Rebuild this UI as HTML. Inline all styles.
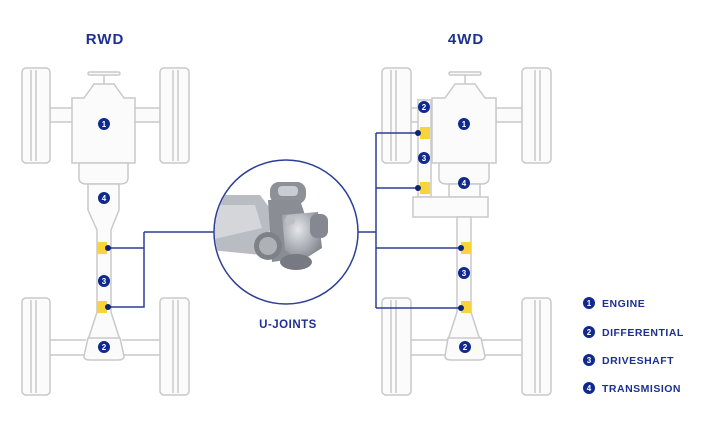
<!DOCTYPE html>
<html><head><meta charset="utf-8"><style>
html,body{margin:0;padding:0;background:#fff}
svg{display:block}
text{font-family:"Liberation Sans",sans-serif;font-weight:bold}
</style></head><body>
<svg width="720" height="428" viewBox="0 0 720 428" xmlns="http://www.w3.org/2000/svg">
<defs>
<radialGradient id="g1" cx="0.4" cy="0.35" r="0.7"><stop offset="0" stop-color="#e4e6ea"/><stop offset="1" stop-color="#7d8189"/></radialGradient>
</defs>
<g fill="#fbfbfb" stroke="#c9c9c9" stroke-width="1.5">
<!-- RWD -->
<rect x="50" y="108" width="110" height="14"/>
<rect x="22" y="68" width="28" height="95" rx="4"/><line x1="31" y1="70" x2="31" y2="161"/><line x1="36" y1="70" x2="36" y2="161"/>
<rect x="160" y="68" width="29" height="95" rx="4"/><line x1="173" y1="70" x2="173" y2="161"/><line x1="178" y1="70" x2="178" y2="161"/>
<rect x="88" y="72" width="32" height="3" rx="1.5"/><line x1="104" y1="75" x2="104" y2="84"/>
<path d="M94 84 H114 L124 98 H135 V163 H72 V98 H84 Z"/>
<path d="M79 163 H128 V178 Q128 184 120 184 H87 Q79 184 79 178 Z"/>
<path d="M88 184 H119 V210 L111 230 V312 L120 340 H88 L97 312 V230 L88 210 Z"/>
<path d="M88 338 H120 L124 356 Q124 360 118 360 H90 Q84 360 84 356 Z"/>
<path d="M50 340 H86 M122 340 H160 M50 355 H85 M123 355 H160" fill="none"/>
<rect x="22" y="298" width="28" height="97" rx="4"/><line x1="31" y1="300" x2="31" y2="393"/><line x1="36" y1="300" x2="36" y2="393"/>
<rect x="160" y="298" width="29" height="97" rx="4"/><line x1="173" y1="300" x2="173" y2="393"/><line x1="178" y1="300" x2="178" y2="393"/>
<!-- 4WD -->
<rect x="496" y="108" width="26" height="14"/>
<rect x="411" y="108" width="10" height="14"/>
<rect x="382" y="68" width="29" height="95" rx="4"/><line x1="391" y1="70" x2="391" y2="161"/><line x1="396" y1="70" x2="396" y2="161"/>
<rect x="522" y="68" width="29" height="95" rx="4"/><line x1="535" y1="70" x2="535" y2="161"/><line x1="540" y1="70" x2="540" y2="161"/>
<rect x="449" y="72" width="32" height="3" rx="1.5"/><line x1="465" y1="75" x2="465" y2="84"/>
<rect x="418" y="100" width="13" height="97"/>
<path d="M455 84 H475 L485 98 H496 V163 H432 V98 H445 Z"/>
<path d="M439 163 H489 V178 Q489 184 481 184 H447 Q439 184 439 178 Z"/>
<rect x="449" y="184" width="31" height="13"/>
<rect x="413" y="197" width="75" height="20"/>
<path d="M457 217 H471 L471 312 L480 340 H448 L457 312 Z"/>
<path d="M448 338 H481 L485 356 Q485 360 479 360 H451 Q445 360 445 356 Z"/>
<path d="M411 340 H447 M482 340 H522 M411 355 H446 M484 355 H522" fill="none"/>
<rect x="382" y="298" width="29" height="97" rx="4"/><line x1="391" y1="300" x2="391" y2="393"/><line x1="396" y1="300" x2="396" y2="393"/>
<rect x="522" y="298" width="29" height="97" rx="4"/><line x1="535" y1="300" x2="535" y2="393"/><line x1="540" y1="300" x2="540" y2="393"/>
</g>
<!-- yellow joints -->
<g fill="#f6d43a">
<rect x="97" y="242" width="10" height="12"/><rect x="97" y="301" width="10" height="12"/>
<rect x="420" y="127" width="10" height="12"/><rect x="420" y="182" width="10" height="12"/>
<rect x="461" y="242" width="10" height="12"/><rect x="461" y="301" width="10" height="12"/>
</g>
<!-- connectors -->
<g stroke="#2c3f96" stroke-width="1.5" fill="none">
<path d="M108 248 H144 M144 232 V307 H108"/><path d="M144 232 H215"/>
<path d="M357 232 H376"/><path d="M376 133 V308"/>
<path d="M376 133 H418 M376 188 H418 M376 248 H461 M376 308 H461"/>
</g>
<g fill="#0f2470">
<circle cx="108" cy="248" r="3"/><circle cx="108" cy="307" r="3"/>
<circle cx="418" cy="133" r="3"/><circle cx="418" cy="188" r="3"/>
<circle cx="461" cy="248" r="3"/><circle cx="461" cy="308" r="3"/>
</g>
<!-- circle with u-joint -->
<circle cx="286" cy="232" r="72" fill="#fff" stroke="#2c3f96" stroke-width="1.5"/>
<clipPath id="cc"><circle cx="286" cy="232" r="71"/></clipPath>
<g clip-path="url(#cc)">
<path d="M210 195 L260 195 L275 215 L262 255 L210 250 Z" fill="#b9bcc2"/>
<path d="M210 205 L255 205 L262 228 L210 240 Z" fill="#d4d6da"/>
<rect x="270" y="182" width="36" height="22" rx="9" fill="#8d9097"/>
<rect x="278" y="186" width="20" height="10" rx="4" fill="#c9ccd0"/>
<path d="M268 200 L300 200 L310 230 L300 258 L272 262 Z" fill="#8a8d94"/>
<path d="M282 215 L318 212 L322 248 L300 262 L285 250 Z" fill="url(#g1)"/>
<rect x="310" y="214" width="18" height="24" rx="7" fill="#858890"/>
<circle cx="268" cy="246" r="14" fill="#7e8188"/><circle cx="268" cy="246" r="9" fill="#aeb1b6"/>
<ellipse cx="296" cy="262" rx="16" ry="8" fill="#777a82"/>
<circle cx="290" cy="220" r="5" fill="#bbbec3"/>
</g>
<!-- badges -->
<g font-size="8" text-anchor="middle">
<g fill="#0f2a8c">
<circle cx="104" cy="124" r="6"/><circle cx="104" cy="198" r="6"/><circle cx="104" cy="281" r="6"/><circle cx="104" cy="347" r="6"/>
<circle cx="464" cy="124" r="6"/><circle cx="424" cy="107" r="6"/><circle cx="424" cy="158" r="6"/><circle cx="464" cy="183" r="6"/>
<circle cx="464" cy="273" r="6"/><circle cx="465" cy="347" r="6"/>
<circle cx="589" cy="303" r="6"/><circle cx="589" cy="332" r="6"/><circle cx="589" cy="360" r="6"/><circle cx="589" cy="388" r="6"/>
</g>
<g fill="#fff">
<text x="104" y="127">1</text><text x="104" y="201">4</text><text x="104" y="284">3</text><text x="104" y="350">2</text>
<text x="464" y="127">1</text><text x="424" y="110">2</text><text x="424" y="161">3</text><text x="464" y="186">4</text>
<text x="464" y="276">3</text><text x="465" y="350">2</text>
<text x="589" y="306">1</text><text x="589" y="335">2</text><text x="589" y="363">3</text><text x="589" y="391">4</text>
</g>
</g>
<g fill="#1d3190">
<text x="105" y="44" font-size="15" text-anchor="middle" letter-spacing="1">RWD</text>
<text x="466" y="44" font-size="15" text-anchor="middle" letter-spacing="1">4WD</text>
<text x="288" y="328" font-size="11.5" text-anchor="middle" letter-spacing="0.5">U-JOINTS</text>
<g font-size="10.5" letter-spacing="0.5">
<text x="602" y="307">ENGINE</text><text x="602" y="336">DIFFERENTIAL</text><text x="602" y="364">DRIVESHAFT</text><text x="602" y="392">TRANSMISION</text>
</g>
</g>
</svg>
</body></html>
